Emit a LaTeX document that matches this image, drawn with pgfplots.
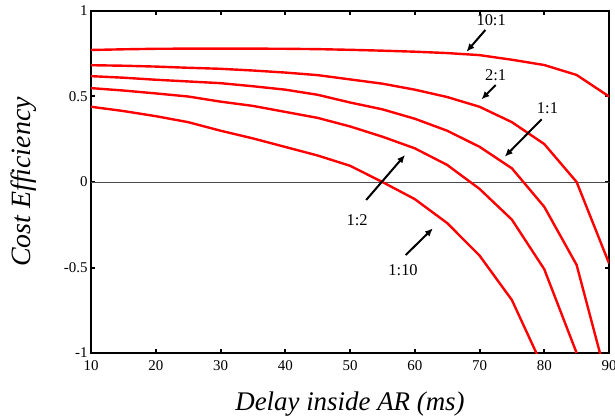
\documentclass[border=0pt]{standalone}
\usepackage{fontspec}
\setmainfont{Liberation Serif}
\usepackage{pgfplots}
\pgfplotsset{compat=1.18}
\usetikzlibrary{arrows.meta,calc}

% cost efficiency vs delay, one table per ratio
\pgfplotstableread{
x y
10 0.772
15 0.776
20 0.779
25 0.780
30 0.780
35 0.780
40 0.779
45 0.777
50 0.773
55 0.768
60 0.762
65 0.754
70 0.742
75 0.715
80 0.684
85 0.626
90 0.500
}\tenone
\pgfplotstableread{
x y
10 0.683
15 0.680
20 0.675
25 0.668
30 0.662
35 0.652
40 0.640
45 0.625
50 0.600
55 0.575
60 0.540
65 0.497
70 0.440
75 0.350
80 0.222
85 0.000
90 -0.475
}\twoone
\pgfplotstableread{
x y
10 0.619
15 0.610
20 0.598
25 0.588
30 0.578
35 0.560
40 0.540
45 0.510
50 0.465
55 0.425
60 0.370
65 0.300
70 0.206
75 0.080
80 -0.145
85 -0.485
90 -1.200
}\oneone
\pgfplotstableread{
x y
10 0.549
15 0.535
20 0.518
25 0.500
30 0.470
35 0.445
40 0.410
45 0.375
50 0.325
55 0.265
60 0.197
65 0.100
70 -0.040
75 -0.220
80 -0.510
85 -1.000
}\onetwo
\pgfplotstableread{
x y
10 0.440
15 0.415
20 0.385
25 0.350
30 0.300
35 0.255
40 0.205
45 0.155
50 0.095
55 0.000
60 -0.100
65 -0.240
70 -0.430
75 -0.690
80 -1.100
}\oneten

\begin{document}
\begin{tikzpicture}
\begin{axis}[
    scale only axis,
    width=518bp, height=342bp,
    xmin=10, xmax=90,
    ymin=-1, ymax=1,
    xtick={10,20,...,90},
    ytick={-1,-0.5,0,0.5,1},
    yticklabels={-1,-0.5,0,0.5,1},
    axis line style={line width=2bp},
    tick align=inside,
    major tick length=4bp,
    tick style={line width=2bp, black},
    ticklabel style={font=\fontsize{15}{15}\selectfont},
    xticklabel style={yshift=-4bp},
    /pgf/number format/assume math mode=true,
    xlabel={\textit{Delay inside AR (ms)}},
    ylabel={\textit{Cost Efficiency}},
    xlabel style={font=\fontsize{27}{27}\selectfont, yshift=-14bp},
    ylabel style={font=\fontsize{28}{28}\selectfont, yshift=20bp},
]
\draw[line width=0.7bp, black!70] (axis cs:10,0) -- (axis cs:90,0);
\addplot[red, line width=2.4bp, no markers] table {\tenone};
\addplot[red, line width=2.4bp, no markers] table {\twoone};
\addplot[red, line width=2.4bp, no markers] table {\oneone};
\addplot[red, line width=2.4bp, no markers] table {\onetwo};
\addplot[red, line width=2.4bp, no markers] table {\oneten};

\begin{scope}[font=\fontsize{16.5}{16.5}\selectfont, line width=2bp, -{Latex[length=8bp,width=7bp]}]
\draw (axis cs:70.9,0.889) -- (axis cs:68.0,0.762);
\node at (axis cs:71.8,0.945) {10:1};
\draw (axis cs:72.5,0.567) -- (axis cs:70.3,0.483);
\node at (axis cs:72.5,0.626) {2:1};
\draw (axis cs:79.6,0.367) -- (axis cs:73.9,0.148);
\node at (axis cs:80.5,0.431) {1:1};
\draw (axis cs:52.5,-0.105) -- (axis cs:58.5,0.158);
\node at (axis cs:51.1,-0.222) {1:2};
\draw (axis cs:58.6,-0.427) -- (axis cs:62.8,-0.271);
\node at (axis cs:58.2,-0.518) {1:10};
\end{scope}
\end{axis}
\pgfresetboundingbox
\path[use as bounding box] ($(current axis.south west)+(-91bp,-63bp)$) rectangle ($(current axis.north east)+(6bp,11bp)$);
\end{tikzpicture}
\end{document}
